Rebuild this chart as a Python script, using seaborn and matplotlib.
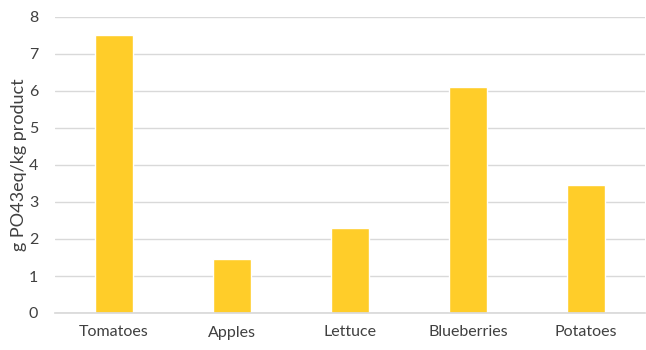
import matplotlib
matplotlib.use("Agg")
import matplotlib.pyplot as plt
import seaborn as sns
import pandas as pd

categories = ["Tomatoes", "Apples", "Lettuce", "Blueberries", "Potatoes"]
values = [7.5, 1.47, 2.3, 6.1, 3.47]
yticks = [0, 1, 2, 3, 4, 5, 6, 7, 8]

sns.set_theme(style="white")
plt.rcParams['font.family'] = ['Lato', 'DejaVu Sans']

df = pd.DataFrame({"cat": categories, "val": values})
fig = plt.figure(figsize=(6.46, 3.5), dpi=100)
ax = fig.add_axes([55/646, 1-313/350, 590/646, 296/350])
sns.barplot(data=df, x="cat", y="val", color="#FFCD29", saturation=1, width=0.32, ax=ax, zorder=3)
ax.set_ylim(0, 8)
ax.set_yticks(yticks)
ax.set_xlim(-0.5, 4.5)
ax.yaxis.grid(True, color="#D9D9D9", linewidth=1, zorder=0)
ax.xaxis.grid(False)
for s in ["top", "right", "left"]:
    ax.spines[s].set_visible(False)
ax.spines["bottom"].set_color("#D9D9D9")
ax.spines["bottom"].set_zorder(4)
ax.tick_params(axis="both", length=0, labelsize=11.5, colors="#404040")
ax.tick_params(axis="x", pad=9)
ax.tick_params(axis="y", pad=12)
ax.set_xlabel("")
ax.set_ylabel("g PO43eq/kg product", fontsize=13, color="#404040")
ax.yaxis.set_label_coords(-28/590, 0.5)
fig.savefig("out.png", dpi=100)
